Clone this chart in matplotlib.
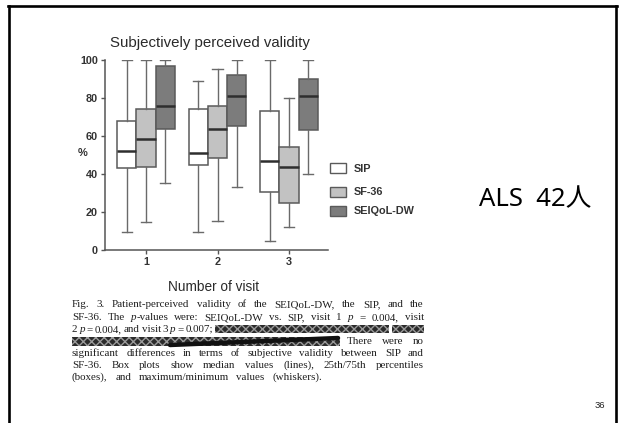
import matplotlib
matplotlib.use("Agg")
import matplotlib.pyplot as plt
from matplotlib.lines import Line2D
from matplotlib.patches import Rectangle

W, H = 619, 423

# ---- data -------------------------------------------------------------
visits = [1, 2, 3]
series = ["SIP", "SF-36", "SEIQoL-DW"]

sip_min = [9.5, 9.5, 4.5]
sip_q1 = [43.0, 44.5, 30.5]
sip_med = [52.0, 51.0, 47.0]
sip_q3 = [68.0, 74.0, 73.0]
sip_max = [100.0, 89.0, 100.0]

sf36_min = [14.5, 15.5, 12.0]
sf36_q1 = [43.5, 48.5, 24.5]
sf36_med = [58.5, 63.5, 43.5]
sf36_q3 = [74.0, 76.0, 54.0]
sf36_max = [100.0, 95.0, 80.0]

seiqol_min = [35.5, 33.0, 40.0]
seiqol_q1 = [63.5, 65.0, 63.0]
seiqol_med = [76.0, 81.0, 81.0]
seiqol_q3 = [97.0, 92.0, 90.0]
seiqol_max = [100.0, 100.0, 100.0]

y_ticks = [0, 20, 40, 60, 80, 100]

# ---- styling ----------------------------------------------------------
fills = ["#ffffff", "#c2c2c2", "#7c7c7c"]
edge = "#5a5a5a"
sans = ["Liberation Sans", "DejaVu Sans"]
serif = ["Liberation Serif", "DejaVu Serif"]

fig = plt.figure(figsize=(W / 100, H / 100), dpi=100)
fig.patch.set_facecolor("white")


def fx(x):
    return x / W


def fy(y):
    return 1 - y / H


# slide frame
for xs, ys in [((8, 617), (6, 6)), ((9, 9), (6, 423)), ((616, 616), (6, 423))]:
    fig.add_artist(Line2D([fx(v) for v in xs], [fy(v) for v in ys],
                          color="black", lw=1.9, solid_capstyle="projecting"))

# ---- box plot ---------------------------------------------------------
ax = fig.add_axes([fx(105), fy(250), (328 - 105) / W, 190 / H])
ax.set_facecolor("white")

groups = [
    (sip_min, sip_q1, sip_med, sip_q3, sip_max),
    (sf36_min, sf36_q1, sf36_med, sf36_q3, sf36_max),
    (seiqol_min, seiqol_q1, seiqol_med, seiqol_q3, seiqol_max),
]
offsets = [-0.27, 0.0, 0.27]
width = 0.27

for (lo, q1, med, q3, hi), off, fc in zip(groups, offsets, fills):
    stats = [dict(med=med[i], q1=q1[i], q3=q3[i], whislo=lo[i], whishi=hi[i],
                  fliers=[]) for i in range(len(visits))]
    ax.bxp(stats, positions=[v + off for v in visits], widths=width,
           patch_artist=True, showfliers=False, manage_ticks=False,
           boxprops=dict(facecolor=fc, edgecolor=edge, linewidth=1.1),
           medianprops=dict(color="#2e2e2e", linewidth=1.8),
           whiskerprops=dict(color="#6a6a6a", linewidth=1.0),
           capprops=dict(color="#6a6a6a", linewidth=1.0),
           capwidths=0.14)

ax.set_xlim(0.427, 3.545)
ax.set_ylim(0, 100)
ax.set_yticks(y_ticks)
ax.set_xticks(visits)
ax.set_yticklabels([str(t) for t in y_ticks], fontfamily=sans,
                   fontweight="bold", fontsize=7.8, color="#333333")
ax.set_xticklabels([str(v) for v in visits], fontfamily=sans,
                   fontweight="bold", fontsize=7.8, color="#333333")
ax.tick_params(axis="both", length=3, width=1.0, color="#555555", pad=2)
for s in ["top", "right"]:
    ax.spines[s].set_visible(False)
for s in ["left", "bottom"]:
    ax.spines[s].set_color("#555555")
    ax.spines[s].set_linewidth(1.1)

fig.text(fx(210), fy(43), "Subjectively perceived validity", ha="center",
         va="center", fontsize=10.8, fontfamily=sans, color="#2a2a2a")
fig.text(fx(83), fy(153), "%", ha="center", va="center", fontsize=8,
         fontweight="bold", fontfamily=sans, color="#333333")
fig.text(fx(213), fy(287), "Number of visit", ha="center", va="center",
         fontsize=9.8, fontfamily=sans, color="#2a2a2a")

# legend drawn by hand
leg_y = [168.5, 192, 211]
for name, fc, yy in zip(series, fills, leg_y):
    fig.add_artist(Rectangle((fx(330), fy(yy + 5)), 16 / W, 10 / H,
                             facecolor=fc, edgecolor=edge, lw=1.0))
    fig.text(fx(354), fy(yy), name, ha="left", va="center", fontsize=7.8,
             fontweight="bold", fontfamily=sans, color="#333333")

# ---- caption (justified) ---------------------------------------------
cap_left, cap_right = 72, 424
line_y = [304, 317, 329, 341, 353, 365, 377]
N, I = "normal", "italic"
caption_lines = [
    ([[("Fig.", N)], [("3.", N)], [("Patient-perceived", N)], [("validity", N)],
      [("of", N)], [("the", N)], [("SEIQoL-DW,", N)], [("the", N)], [("SIP,", N)],
      [("and", N)], [("the", N)]], cap_left, cap_right),
    ([[("SF-36.", N)], [("The", N)], [("p", I), ("-values", N)], [("were:", N)],
      [("SEIQoL-DW", N)], [("vs.", N)], [("SIP,", N)], [("visit", N)], [("1", N)],
      [("p", I)], [("=", N)], [("0.004,", N)], [("visit", N)]], cap_left, cap_right),
    ([[("2", N)], [("p", I)], [("=", N)], [("0.004,", N)], [("and", N)],
      [("visit", N)], [("3", N)], [("p", I)], [("=", N)], [("0.007;", N)]],
     cap_left, 213),
    ([[("There", N)], [("were", N)], [("no", N)]], 347, cap_right),
    ([[("significant", N)], [("differences", N)], [("in", N)], [("terms", N)],
      [("of", N)], [("subjective", N)], [("validity", N)], [("between", N)],
      [("SIP", N)], [("and", N)]], cap_left, cap_right),
    ([[("SF-36.", N)], [("Box", N)], [("plots", N)], [("show", N)], [("median", N)],
      [("values", N)], [("(lines),", N)], [("25th/75th", N)], [("percentiles", N)]],
     cap_left, cap_right),
    ([[("(boxes),", N)], [("and", N)], [("maximum/minimum", N)], [("values", N)],
      [("(whiskers).", N)]], cap_left, 322),
]

renderer = fig.canvas.get_renderer()
cap_size = 7.9


def seg_width(text, style):
    t = fig.text(0, 0, text, fontsize=cap_size, fontfamily=serif, style=style)
    w = t.get_window_extent(renderer).width
    t.remove()
    return w


for li, (words, x0, x1) in enumerate(caption_lines):
    widths = [sum(seg_width(s, st) for s, st in wd) for wd in words]
    gap = max((x1 - x0 - sum(widths)) / (len(words) - 1), 1.2)
    x = x0
    base = line_y[li] + 3
    for wd, w in zip(words, widths):
        xx = x
        for s, st in wd:
            fig.text(fx(xx), fy(base), s, fontsize=cap_size, fontfamily=serif,
                     style=st, va="baseline", ha="left", color="#1e1e1e")
            xx += seg_width(s, st)
        x += w + gap

# blacked-out passages of the caption
for (x0, y0, x1, y1) in [(215, 325, 389, 333), (392, 325, 424, 333),
                         (72, 337, 340, 346)]:
    fig.add_artist(Rectangle((fx(x0), fy(y1)), (x1 - x0) / W, (y1 - y0) / H,
                             facecolor="#2b2b2b", edgecolor="#9a9a9a",
                             hatch="xxxx", lw=0))
fig.add_artist(Line2D([fx(170), fx(338)], [fy(345), fy(338)],
                      color="#111111", lw=3.2, solid_capstyle="round"))

# ---- slide annotations -----------------------------------------------
fig.text(fx(535), fy(200), "ALS  42人", ha="center", va="center",
         fontsize=18.5, fontfamily=["Noto Sans", "Noto Sans CJK JP"],
         color="black")
fig.text(fx(600), fy(405), "36", ha="center", va="center", fontsize=6.8,
         fontfamily=sans, color="#222222")

fig.savefig("out.png", dpi=100, facecolor="white")
